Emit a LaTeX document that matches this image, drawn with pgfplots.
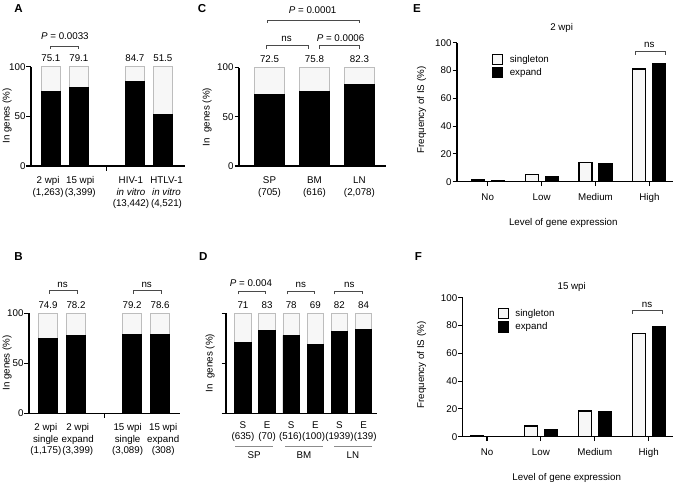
\documentclass[border=0pt]{standalone}
\usepackage{pgfplots}
\pgfplotsset{compat=1.18}
\usepackage{fontspec}
\setmainfont{Liberation Sans}
\definecolor{topfill}{HTML}{F7F7F7}
\definecolor{topdraw}{HTML}{BDBDBD}
\definecolor{brk}{HTML}{4A4A4A}
\definecolor{sfill}{HTML}{F7F7F7}
\definecolor{uline}{HTML}{8C8C8C}
\newcommand{\fs}{\fontsize{9.8}{11.5}\selectfont}
\newcommand{\brk}[3]{\draw[brk, line width=0.8bp] ([yshift=#3bp-3bp]axis cs:#1,100) -- ([yshift=#3bp]axis cs:#1,100) -- ([yshift=#3bp]axis cs:#2,100) -- ([yshift=#3bp-3bp]axis cs:#2,100);}
\newcommand{\vl}[2]{\node[anchor=base, yshift=5bp, inner sep=0pt] at (axis cs:#1,100) {#2};}
\newcommand{\bl}[3]{\node[anchor=base, yshift=-#2bp, inner sep=0pt] at (axis cs:#1,0) {#3};}
\newcommand{\at}[3]{\node[anchor=base, yshift=#2bp, inner sep=0pt] at (axis cs:#1,100) {#3};}
\pgfplotsset{
  every axis/.append style={
    scale only axis, anchor=south west, clip=false,
    /pgf/number format/assume math mode=true,
    font=\fs, ticklabel style={font=\fs},
    axis lines=left,
    axis line style={-, line width=1.1bp},
    tick style={black, line width=1.1bp},
    major tick length=4.5bp,
    tick align=outside,
    yticklabel style={inner sep=0.8bp},
    ymin=0, ymax=100,
  },
  topbar/.style={ybar, bar width=#1, fill=topfill, draw=topdraw, line width=0.9bp},
  blkbar/.style={ybar, bar width=#1, fill=black, draw=black, line width=0.9bp},
  sbar/.style={ybar, bar width=13bp, bar shift=-10bp, fill=sfill, draw=black, line width=1.1bp,
     legend image code/.code={\draw[fill=sfill, draw=black, line width=1.1bp] (0bp,-5bp) rectangle (10bp,5bp);}},
  ebar/.style={ybar, bar width=13bp, bar shift=10bp, fill=black, draw=black, line width=1.1bp,
     legend image code/.code={\draw[fill=black, draw=black, line width=1.1bp] (0bp,-5bp) rectangle (10bp,5bp);}},
  leg/.style={legend style={at={#1}, anchor=north west, draw=none, fill=none, inner sep=0pt,
     row sep=2bp, column sep=5.5bp, nodes={inner sep=1bp}, font=\fs}, legend cell align=left},
}
\begin{document}
\begin{tikzpicture}
\useasboundingbox (0,0) rectangle (675bp,-484bp);
% ---------------- A
\begin{axis}[at={(31bp,-166bp)}, width=154bp, height=99.3bp, xmin=0.29, xmax=5.79,
  xtick={3}, xticklabels={}, ytick={0,50,100}]
\addplot[topbar=19bp] coordinates {(1,100) (2,100) (4,100) (5,100)};
\addplot[blkbar=19bp] coordinates {(1,75.1) (2,79.1) (4,84.7) (5,51.5)};
\vl{1}{75.1}\vl{2}{79.1}\vl{4}{84.7}\vl{5}{51.5}
\brk{1}{2}{20.5}
\at{1.5}{27}{\textit{P} = 0.0033}
\bl{0.9}{17.5}{2 wpi}\bl{0.9}{29}{(1,263)}
\bl{2.05}{17.5}{15 wpi}\bl{2.05}{29}{(3,399)}
\bl{3.86}{17.5}{HIV-1}\bl{3.86}{29}{\textit{in vitro}}\bl{3.86}{40.5}{(13,442)}
\bl{5.13}{17.5}{HTLV-1}\bl{5.13}{29}{\textit{in vitro}}\bl{5.13}{40.5}{(4,521)}
\end{axis}
% ---------------- C
\begin{axis}[at={(239bp,-166bp)}, width=147bp, height=98.5bp, xmin=0.322, xmax=3.59,
  xtick=\empty, ytick={0,50,100}]
\addplot[topbar=30bp] coordinates {(1,100) (2,100) (3,100)};
\addplot[blkbar=30bp] coordinates {(1,72.5) (2,75.8) (3,82.3)};
\vl{1}{72.5}\vl{2}{75.8}\vl{3}{82.3}
\brk{0.94}{1.86}{21.8}
\at{1.38}{26.5}{ns}
\brk{2.1}{3.0}{21.8}
\at{2.58}{26}{\textit{P} = 0.0006}
\brk{0.95}{3.0}{47.5}
\at{1.96}{54}{\textit{P} = 0.0001}
\bl{1}{17.5}{SP}\bl{1}{29}{(705)}
\bl{2}{17.5}{BM}\bl{2}{29}{(616)}
\bl{3}{17.5}{LN}\bl{3}{29}{(2,078)}
\end{axis}
% ---------------- B
\begin{axis}[at={(29bp,-413.3bp)}, width=151bp, height=100bp, xmin=0.32, xmax=5.71,
  xtick={3}, xticklabels={}, ytick={0,50,100}]
\addplot[topbar=19bp] coordinates {(1,100) (2,100) (4,100) (5,100)};
\addplot[blkbar=19bp] coordinates {(1,74.9) (2,78.2) (4,79.2) (5,78.6)};
\vl{1}{74.9}\vl{2}{78.2}\vl{4}{79.2}\vl{5}{78.6}
\brk{1.05}{2.05}{22.6}\at{1.52}{25.6}{ns}
\brk{4.05}{5.05}{22.6}\at{4.52}{25.6}{ns}
\bl{0.92}{17.5}{2 wpi}\bl{0.92}{29}{single}\bl{0.92}{40.5}{(1,175)}
\bl{2.06}{17.5}{2 wpi}\bl{2.06}{29}{expand}\bl{2.06}{40.5}{(3,399)}
\bl{3.84}{17.5}{15 wpi}\bl{3.84}{29}{single}\bl{3.84}{40.5}{(3,089)}
\bl{5.11}{17.5}{15 wpi}\bl{5.11}{29}{expand}\bl{5.11}{40.5}{(308)}
\end{axis}
% ---------------- D
\begin{axis}[at={(226bp,-413.3bp)}, width=151bp, height=100bp, xmin=0.295, xmax=6.56,
  xtick=\empty, ytick={0,50,100}, yticklabels={}]
\addplot[topbar=16.5bp] coordinates {(1,100) (2,100) (3,100) (4,100) (5,100) (6,100)};
\addplot[blkbar=16.5bp] coordinates {(1,71) (2,83) (3,78) (4,69) (5,82) (6,84)};
\vl{1}{71}\vl{2}{83}\vl{3}{78}\vl{4}{69}\vl{5}{82}\vl{6}{84}
\brk{0.8}{1.95}{22}\at{1.33}{26.7}{\textit{P} = 0.004}
\brk{2.85}{3.97}{22}\at{3.4}{26.3}{ns}
\brk{4.8}{5.97}{22}\at{5.41}{26.3}{ns}
\bl{1}{15}{S}\bl{2}{15}{E}\bl{3}{15}{S}\bl{4}{15}{E}\bl{5}{15}{S}\bl{6}{15}{E}
\bl{1}{26}{(635)}\bl{2}{26}{(70)}\bl{2.97}{26}{(516)}\bl{3.93}{26}{(100)}\bl{5}{26}{(1939)}\bl{6.07}{26}{(139)}
\draw[uline, line width=0.9bp] ([yshift=-33bp]axis cs:0.67,0) -- ([yshift=-33bp]axis cs:2.26,0);
\draw[uline, line width=0.9bp] ([yshift=-33bp]axis cs:2.74,0) -- ([yshift=-33bp]axis cs:4.32,0);
\draw[uline, line width=0.9bp] ([yshift=-33bp]axis cs:4.78,0) -- ([yshift=-33bp]axis cs:6.34,0);
\bl{1.46}{45}{SP}\bl{3.53}{45}{BM}\bl{5.56}{45}{LN}
\end{axis}
% ---------------- E
\begin{axis}[at={(457bp,-181.7bp)}, width=216bp, height=139bp, xmin=0.43, xmax=4.438,
  xtick={1,2,3,4}, xticklabels={}, ytick={0,20,40,60,80,100},
  leg={(rel axis cs:0.162,0.92)}]
\addplot[sbar] coordinates {(1,1.2) (2,5.3) (3,13.7) (4,81.1)};
\addplot[ebar] coordinates {(1,0.7) (2,3.6) (3,12.7) (4,84.7)};
\legend{singleton, expand}
\draw[brk, line width=0.8bp] (axis cs:3.735,91.3) -- (axis cs:3.735,93.5) -- (axis cs:4.30,93.5) -- (axis cs:4.30,91.3);
\node[anchor=base, inner sep=0pt] at (axis cs:4,96.4) {ns};
\bl{1}{19}{No}\bl{2}{19}{Low}\bl{3}{19}{Medium}\bl{4}{19}{High}
\end{axis}
% ---------------- F
\begin{axis}[at={(462.7bp,-436.7bp)}, width=210.3bp, height=139bp, xmin=0.549, xmax=4.451,
  xtick={1,2,3,4}, xticklabels={}, ytick={0,20,40,60,80,100},
  leg={(rel axis cs:0.166,0.925)}]
\addplot[sbar] coordinates {(1,0.6) (2,7.7) (3,18.5) (4,74.3)};
\addplot[ebar] coordinates {(1,0) (2,4.8) (3,18.0) (4,79.1)};
\legend{singleton, expand}
\draw[brk, line width=0.8bp] (axis cs:3.70,88.4) -- (axis cs:3.70,90.6) -- (axis cs:4.25,90.6) -- (axis cs:4.25,88.4);
\node[anchor=base, inner sep=0pt] at (axis cs:3.97,92.8) {ns};
\bl{1}{19}{No}\bl{2}{19}{Low}\bl{3}{19}{Medium}\bl{4}{19}{High}
\end{axis}
% ---------------- outside labels
\begin{scope}[every node/.style={font=\fs, inner sep=0pt}]
\node[rotate=90] at (7bp,-116bp) {In genes (\%)};
\node[rotate=90] at (7bp,-363bp) {In genes (\%)};
\node[rotate=90] at (207bp,-117bp) {In\ \ genes (\%)};
\node[rotate=90] at (210bp,-363bp) {In\ \ genes (\%)};
\node[rotate=90] at (421.7bp,-110bp) {Frequency of IS (\%)};
\node[rotate=90] at (421.7bp,-365bp) {Frequency of IS (\%)};
\node[anchor=base] at (561.7bp,-30bp) {2 wpi};
\node[anchor=base] at (571.7bp,-289bp) {15 wpi};
\node[anchor=base] at (563.3bp,-225bp) {Level of gene expression};
\node[anchor=base] at (566.7bp,-480.6bp) {Level of gene expression};
\end{scope}
\begin{scope}[every node/.style={font=\fontsize{11.6}{14}\bfseries\selectfont, inner sep=0pt}]
\node at (18.5bp,-9bp) {A};
\node at (202bp,-8.5bp) {C};
\node at (417bp,-8.5bp) {E};
\node at (18.5bp,-256.7bp) {B};
\node at (203.3bp,-256.7bp) {D};
\node at (418.3bp,-256.7bp) {F};
\end{scope}
\end{tikzpicture}
\end{document}
